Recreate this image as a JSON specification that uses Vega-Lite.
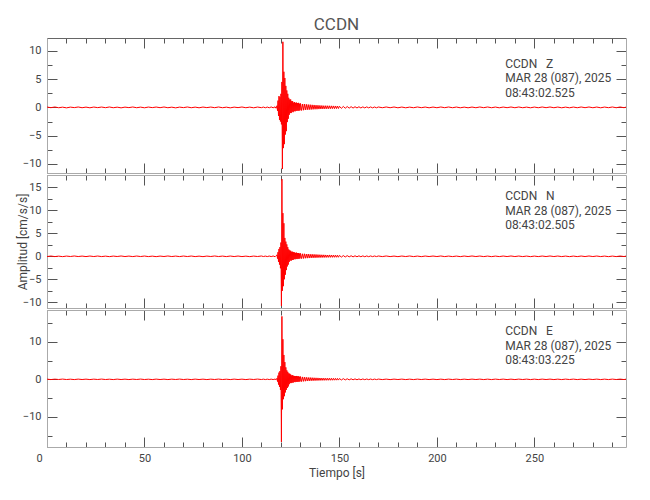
{
"$schema": "https://vega.github.io/schema/vega-lite/v6.json",
"autosize": "pad",
"padding": {"left": 16, "top": 15, "right": 5, "bottom": 5},
"background": "white",
"title": {"text": "CCDN", "fontSize": 17, "font": "Roboto", "fontWeight": "normal", "color": "#555", "offset": 4, "anchor": "middle", "frame": "group"},
"config": {
  "view": {"stroke": null},
  "font": "Roboto",
  "axis": {"grid": false, "labelFont": "Roboto", "labelFontSize": 11, "labelColor": "#444", "titleFont": "Roboto", "titleFontSize": 12, "titleFontWeight": "normal", "titleColor": "#444", "domainColor": "#aaa", "tickColor": "#555", "tickWidth": 1}
},
"spacing": 0,
"data": {"values": [
{"t":0,"z":0.06,"n":-0.05,"e":0.05},{"t":2,"z":-0.05,"n":0.06,"e":-0.06},{"t":4,"z":0.07,"n":-0.06,"e":0.05},{"t":6,"z":-0.06,"n":0.04,"e":-0.04},{"t":8,"z":0.04,"n":-0.07,"e":0.07},{"t":10,"z":-0.08,"n":0.05,"e":-0.05},{"t":12,"z":0.05,"n":-0.04,"e":0.04},{"t":14,"z":-0.04,"n":0.07,"e":-0.06},{"t":16,"z":0.07,"n":-0.05,"e":0.06},{"t":18,"z":-0.06,"n":0.05,"e":-0.05},
{"t":20,"z":0.05,"n":-0.06,"e":0.05},{"t":22,"z":-0.07,"n":0.06,"e":-0.06},{"t":24,"z":0.06,"n":-0.05,"e":0.05},{"t":26,"z":-0.04,"n":0.06,"e":-0.04},{"t":28,"z":0.06,"n":-0.06,"e":0.07},{"t":30,"z":-0.05,"n":0.04,"e":-0.05},{"t":32,"z":0.07,"n":-0.07,"e":0.04},{"t":34,"z":-0.06,"n":0.05,"e":-0.06},{"t":36,"z":0.04,"n":-0.04,"e":0.06},{"t":38,"z":-0.08,"n":0.07,"e":-0.05},
{"t":40,"z":0.05,"n":-0.05,"e":0.05},{"t":42,"z":-0.04,"n":0.05,"e":-0.06},{"t":44,"z":0.07,"n":-0.06,"e":0.05},{"t":46,"z":-0.06,"n":0.06,"e":-0.04},{"t":48,"z":0.05,"n":-0.05,"e":0.07},{"t":50,"z":-0.07,"n":0.06,"e":-0.05},{"t":52,"z":0.06,"n":-0.06,"e":0.04},{"t":54,"z":-0.04,"n":0.04,"e":-0.06},{"t":56,"z":0.06,"n":-0.07,"e":0.06},{"t":58,"z":-0.05,"n":0.05,"e":-0.05},
{"t":60,"z":0.07,"n":-0.04,"e":0.05},{"t":62,"z":-0.06,"n":0.07,"e":-0.06},{"t":64,"z":0.04,"n":-0.05,"e":0.05},{"t":66,"z":-0.08,"n":0.05,"e":-0.04},{"t":68,"z":0.05,"n":-0.06,"e":0.07},{"t":70,"z":-0.04,"n":0.06,"e":-0.05},{"t":72,"z":0.07,"n":-0.05,"e":0.04},{"t":74,"z":-0.06,"n":0.06,"e":-0.06},{"t":76,"z":0.05,"n":-0.06,"e":0.06},{"t":78,"z":-0.07,"n":0.04,"e":-0.05},
{"t":80,"z":0.06,"n":-0.07,"e":0.05},{"t":82,"z":-0.04,"n":0.05,"e":-0.06},{"t":84,"z":0.06,"n":-0.04,"e":0.05},{"t":86,"z":-0.05,"n":0.07,"e":-0.04},{"t":88,"z":0.07,"n":-0.05,"e":0.07},{"t":90,"z":-0.06,"n":0.05,"e":-0.05},{"t":92,"z":0.04,"n":-0.06,"e":0.04},{"t":94,"z":-0.08,"n":0.06,"e":-0.06},{"t":96,"z":0.05,"n":-0.05,"e":0.06},{"t":98,"z":-0.04,"n":0.06,"e":-0.05},
{"t":100,"z":0.07,"n":-0.06,"e":0.05},{"t":102,"z":-0.06,"n":0.04,"e":-0.06},{"t":104,"z":0.05,"n":-0.07,"e":0.05},{"t":106,"z":-0.07,"n":0.05,"e":-0.04},{"t":108,"z":0.06,"n":-0.04,"e":0.07},{"t":110,"z":-0.05,"n":0.07,"e":-0.05},
{"t":111,"z":0.06,"n":-0.05,"e":0.05},{"t":112,"z":-0.07,"n":0.05,"e":-0.06},{"t":113,"z":0.06,"n":-0.06,"e":0.05},{"t":114,"z":-0.07,"n":0.06,"e":-0.06},{"t":115,"z":0.08,"n":-0.06,"e":0.06},{"t":116,"z":-0.07,"n":0.07,"e":-0.06},{"t":117,"z":0.1,"n":-0.09,"e":0.08},{"t":117.5,"z":-0.15,"n":0.14,"e":-0.12},
{"t":118,"z":0.3,"n":0.3,"e":0.3},{"t":118.25,"z":-0.6,"n":-0.5,"e":-0.6},{"t":118.5,"z":1.2,"n":0.9,"e":1.0},{"t":118.75,"z":-1.5,"n":-1.2,"e":-1.4},{"t":119,"z":2.0,"n":1.6,"e":1.8},{"t":119.25,"z":-2.2,"n":-1.8,"e":-2.0},{"t":119.5,"z":1.8,"n":2.0,"e":2.2},{"t":119.75,"z":-2.5,"n":-2.6,"e":-2.8},
{"t":120,"z":2.4,"n":3.0,"e":3.5},{"t":120.25,"z":-3.0,"n":-10.8,"e":-16.7},{"t":120.5,"z":4.5,"n":16.8,"e":16.8},{"t":120.75,"z":-10.9,"n":-7.5,"e":-8.0},{"t":121,"z":11.6,"n":9.4,"e":10.7},{"t":121.25,"z":-7.2,"n":-6.5,"e":-5.3},{"t":121.5,"z":6.3,"n":7.2,"e":6.5},{"t":121.75,"z":-6.5,"n":-5.0,"e":-4.5},
{"t":122,"z":5.2,"n":4.0,"e":4.6},{"t":122.25,"z":-4.8,"n":-4.0,"e":-3.5},{"t":122.5,"z":3.8,"n":3.2,"e":3.2},{"t":122.75,"z":-4.2,"n":-3.0,"e":-2.8},{"t":123,"z":3.0,"n":2.6,"e":2.4},{"t":123.25,"z":-2.6,"n":-2.2,"e":-2.3},{"t":123.5,"z":2.4,"n":2.0,"e":2.0},{"t":123.75,"z":-2.0,"n":-1.8,"e":-1.9},
{"t":124,"z":1.7,"n":1.5,"e":1.6},{"t":124.25,"z":-1.3,"n":-1.2,"e":-1.3},{"t":124.5,"z":1.4,"n":1.3,"e":1.5},{"t":124.75,"z":-1.0,"n":-0.9,"e":-1.0},{"t":125,"z":1.4,"n":1.2,"e":1.3},{"t":125.25,"z":-1.0,"n":-0.95,"e":-1.0},{"t":125.5,"z":1.1,"n":1.0,"e":1.05},{"t":125.75,"z":-0.75,"n":-0.8,"e":-0.85},
{"t":126,"z":1.1,"n":1.0,"e":1.1},{"t":126.25,"z":-0.85,"n":-0.8,"e":-0.9},{"t":126.5,"z":0.85,"n":0.9,"e":0.95},{"t":126.75,"z":-0.65,"n":-0.6,"e":-0.7},{"t":127,"z":0.95,"n":0.85,"e":0.9},{"t":127.25,"z":-0.7,"n":-0.65,"e":-0.75},{"t":127.5,"z":0.8,"n":0.75,"e":0.85},{"t":127.75,"z":-0.6,"n":-0.55,"e":-0.65},
{"t":128,"z":0.85,"n":0.8,"e":0.9},{"t":128.25,"z":-0.6,"n":-0.6,"e":-0.7},{"t":128.5,"z":0.75,"n":0.7,"e":0.8},{"t":128.75,"z":-0.55,"n":-0.5,"e":-0.6},{"t":129,"z":0.8,"n":0.7,"e":0.8},{"t":129.25,"z":-0.6,"n":-0.55,"e":-0.65},{"t":129.5,"z":0.65,"n":0.6,"e":0.7},{"t":129.75,"z":-0.5,"n":-0.45,"e":-0.55},
{"t":130,"z":0.7,"n":0.65,"e":0.75},{"t":130.5,"z":-0.55,"n":-0.5,"e":-0.6},{"t":131,"z":0.6,"n":0.55,"e":0.65},{"t":131.5,"z":-0.5,"n":-0.48,"e":-0.55},{"t":132,"z":0.6,"n":0.55,"e":0.6},{"t":132.5,"z":-0.45,"n":-0.42,"e":-0.5},{"t":133,"z":0.55,"n":0.5,"e":0.55},{"t":133.5,"z":-0.42,"n":-0.4,"e":-0.45},
{"t":134,"z":0.5,"n":0.5,"e":0.5},{"t":134.5,"z":-0.4,"n":-0.38,"e":-0.42},{"t":135,"z":0.48,"n":0.45,"e":0.48},{"t":135.5,"z":-0.38,"n":-0.35,"e":-0.38},{"t":136,"z":0.45,"n":0.45,"e":0.45},{"t":136.5,"z":-0.35,"n":-0.33,"e":-0.36},{"t":137,"z":0.43,"n":0.42,"e":0.42},{"t":137.5,"z":-0.33,"n":-0.32,"e":-0.34},
{"t":138,"z":0.4,"n":0.4,"e":0.4},{"t":138.5,"z":-0.32,"n":-0.3,"e":-0.32},{"t":139,"z":0.38,"n":0.37,"e":0.38},{"t":139.5,"z":-0.3,"n":-0.28,"e":-0.3},{"t":140,"z":0.35,"n":0.35,"e":0.35},{"t":140.5,"z":-0.28,"n":-0.27,"e":-0.28},{"t":141,"z":0.33,"n":0.33,"e":0.33},{"t":141.5,"z":-0.27,"n":-0.26,"e":-0.27},
{"t":142,"z":0.3,"n":0.32,"e":0.32},{"t":142.5,"z":-0.26,"n":-0.25,"e":-0.26},{"t":143,"z":0.3,"n":0.3,"e":0.3},{"t":143.5,"z":-0.25,"n":-0.24,"e":-0.25},{"t":144,"z":0.29,"n":0.28,"e":0.3},{"t":144.5,"z":-0.24,"n":-0.23,"e":-0.24},{"t":145,"z":0.28,"n":0.3,"e":0.3},{"t":145.5,"z":-0.23,"n":-0.22,"e":-0.24},
{"t":146,"z":0.27,"n":0.27,"e":0.28},{"t":146.5,"z":-0.22,"n":-0.22,"e":-0.23},{"t":147,"z":0.26,"n":0.26,"e":0.27},{"t":147.5,"z":-0.22,"n":-0.21,"e":-0.22},{"t":148,"z":0.25,"n":0.25,"e":0.26},{"t":148.5,"z":-0.21,"n":-0.2,"e":-0.21},{"t":149,"z":0.24,"n":0.24,"e":0.25},{"t":149.5,"z":-0.2,"n":-0.2,"e":-0.2},
{"t":150,"z":0.2,"n":0.2,"e":0.22},{"t":151,"z":-0.17,"n":-0.16,"e":-0.17},{"t":152,"z":0.17,"n":0.16,"e":0.18},{"t":153,"z":-0.15,"n":-0.14,"e":-0.15},{"t":154,"z":0.15,"n":0.15,"e":0.15},{"t":155,"z":-0.13,"n":-0.12,"e":-0.14},{"t":156,"z":0.13,"n":0.12,"e":0.14},{"t":157,"z":-0.12,"n":-0.12,"e":-0.12},
{"t":158,"z":0.12,"n":0.11,"e":0.12},{"t":159,"z":-0.1,"n":-0.1,"e":-0.11},{"t":160,"z":0.11,"n":0.1,"e":0.1},{"t":161,"z":-0.1,"n":-0.09,"e":-0.1},{"t":162,"z":0.09,"n":0.09,"e":0.1},{"t":163,"z":-0.09,"n":-0.09,"e":-0.09},{"t":164,"z":0.09,"n":0.08,"e":0.09},{"t":165,"z":-0.08,"n":-0.08,"e":-0.08},
{"t":166,"z":0.08,"n":0.08,"e":0.08},{"t":167,"z":-0.08,"n":-0.07,"e":-0.08},{"t":168,"z":0.07,"n":0.07,"e":0.07},{"t":169,"z":-0.07,"n":-0.06,"e":-0.07},{"t":170,"z":0.07,"n":0.07,"e":0.07},
{"t":172,"z":-0.06,"n":-0.06,"e":-0.06},{"t":174,"z":0.07,"n":0.07,"e":0.06},{"t":176,"z":-0.06,"n":-0.06,"e":-0.07},{"t":178,"z":0.07,"n":0.05,"e":0.06},{"t":180,"z":-0.07,"n":-0.07,"e":-0.05},{"t":182,"z":0.06,"n":0.06,"e":0.06},{"t":184,"z":-0.07,"n":-0.05,"e":-0.06},{"t":186,"z":0.05,"n":0.07,"e":0.05},{"t":188,"z":-0.06,"n":-0.06,"e":-0.06},{"t":190,"z":0.07,"n":0.05,"e":0.06},
{"t":192,"z":-0.05,"n":-0.07,"e":-0.05},{"t":194,"z":0.06,"n":0.06,"e":0.06},{"t":196,"z":-0.07,"n":-0.05,"e":-0.06},{"t":198,"z":0.06,"n":0.06,"e":0.05},{"t":200,"z":-0.06,"n":-0.05,"e":-0.06},{"t":202,"z":0.07,"n":0.07,"e":0.05},{"t":204,"z":-0.05,"n":-0.06,"e":-0.06},{"t":206,"z":0.07,"n":0.05,"e":0.06},{"t":208,"z":-0.06,"n":-0.06,"e":-0.05},{"t":210,"z":0.06,"n":0.05,"e":0.06},
{"t":212,"z":-0.07,"n":-0.07,"e":-0.06},{"t":214,"z":0.05,"n":0.06,"e":0.05},{"t":216,"z":-0.07,"n":-0.05,"e":-0.06},{"t":218,"z":0.06,"n":0.07,"e":0.06},{"t":220,"z":-0.06,"n":-0.05,"e":-0.05},{"t":222,"z":0.07,"n":0.06,"e":0.06},{"t":224,"z":-0.05,"n":-0.06,"e":-0.06},{"t":226,"z":0.07,"n":0.05,"e":0.05},{"t":228,"z":-0.06,"n":-0.07,"e":-0.06},{"t":230,"z":0.06,"n":0.05,"e":0.06},
{"t":232,"z":-0.07,"n":-0.06,"e":-0.05},{"t":234,"z":0.06,"n":0.06,"e":0.06},{"t":236,"z":-0.05,"n":-0.05,"e":-0.06},{"t":238,"z":0.07,"n":0.07,"e":0.05},{"t":240,"z":-0.06,"n":-0.05,"e":-0.06},{"t":242,"z":0.07,"n":0.06,"e":0.06},{"t":244,"z":-0.06,"n":-0.06,"e":-0.05},{"t":246,"z":0.05,"n":0.05,"e":0.06},{"t":248,"z":-0.07,"n":-0.07,"e":-0.06},{"t":250,"z":0.06,"n":0.05,"e":0.05},
{"t":252,"z":-0.06,"n":-0.06,"e":-0.06},{"t":254,"z":0.07,"n":0.06,"e":0.06},{"t":256,"z":-0.05,"n":-0.05,"e":-0.05},{"t":258,"z":0.07,"n":0.07,"e":0.06},{"t":260,"z":-0.06,"n":-0.05,"e":-0.06},{"t":262,"z":0.06,"n":0.06,"e":0.05},{"t":264,"z":-0.07,"n":-0.06,"e":-0.06},{"t":266,"z":0.05,"n":0.05,"e":0.06},{"t":268,"z":-0.07,"n":-0.07,"e":-0.05},{"t":270,"z":0.06,"n":0.05,"e":0.06},
{"t":272,"z":-0.06,"n":-0.06,"e":-0.06},{"t":274,"z":0.07,"n":0.06,"e":0.05},{"t":276,"z":-0.05,"n":-0.05,"e":-0.06},{"t":278,"z":0.07,"n":0.07,"e":0.06},{"t":280,"z":-0.06,"n":-0.05,"e":-0.05},{"t":282,"z":0.06,"n":0.06,"e":0.06},{"t":284,"z":-0.07,"n":-0.06,"e":-0.06},{"t":286,"z":0.06,"n":0.05,"e":0.05},{"t":288,"z":-0.05,"n":-0.07,"e":-0.06},{"t":290,"z":0.07,"n":0.05,"e":0.06},
{"t":292,"z":-0.06,"n":-0.06,"e":-0.05},{"t":294,"z":0.07,"n":0.06,"e":0.06},{"t":296,"z":-0.06,"n":-0.05,"e":-0.06},{"t":297,"z":0.05,"n":0.05,"e":0.05}
]},
"vconcat": [
{
 "width": 579, "height": 135,
 "layer": [
  {"mark": {"type": "line", "color": "#ff0000", "strokeWidth": 1},
   "encoding": {
    "x": {"field": "t", "type": "quantitative", "scale": {"domain": [0, 297], "nice": false, "zero": false},
          "axis": {"orient": "bottom", "values": [0,10,20,30,40,50,60,70,80,90,100,110,120,130,140,150,160,170,180,190,200,210,220,230,240,250,260,270,280,290], "labels": false, "title": null, "tickSize": {"condition": {"test": "datum.value % 50 === 0", "value": -10}, "value": -5}}},
    "y": {"field": "z", "type": "quantitative", "scale": {"domain": [-11.6, 12.27], "nice": false, "zero": false},
          "axis": {"orient": "left", "values": [-10,-7.5,-5,-2.5,0,2.5,5,7.5,10], "title": null, "labelExpr": "datum.value % 5 === 0 ? datum.label : ''", "labelPadding": 16, "tickSize": {"condition": {"test": "datum.value % 5 === 0", "value": -10}, "value": -5}}}
   }},
  {"data": {"values": [{}]},
   "mark": {"type": "text", "align": "left", "baseline": "top", "text": ["CCDN\u00a0\u00a0\u00a0Z", "MAR 28 (087), 2025", "08:43:02.525"], "lineHeight": 14.5, "fontSize": 12, "color": "#444"},
   "encoding": {
    "x": {"datum": 235, "type": "quantitative", "axis": {"orient": "top", "values": [0,10,20,30,40,50,60,70,80,90,100,110,120,130,140,150,160,170,180,190,200,210,220,230,240,250,260,270,280,290], "labels": false, "title": null, "domainColor": "#666", "tickSize": {"condition": {"test": "datum.value % 50 === 0", "value": -10}, "value": -5}}},
    "y": {"datum": 8.6, "type": "quantitative", "axis": {"orient": "right", "values": [-10,-7.5,-5,-2.5,0,2.5,5,7.5,10], "labels": false, "title": null, "tickSize": {"condition": {"test": "datum.value % 5 === 0", "value": -10}, "value": -5}}}
   }}
 ],
 "resolve": {"axis": {"x": "independent", "y": "independent"}}
},
{
 "width": 579, "height": 133,
 "layer": [
  {"mark": {"type": "line", "color": "#ff0000", "strokeWidth": 1},
   "encoding": {
    "x": {"field": "t", "type": "quantitative", "scale": {"domain": [0, 297], "nice": false, "zero": false},
          "axis": {"orient": "bottom", "values": [0,10,20,30,40,50,60,70,80,90,100,110,120,130,140,150,160,170,180,190,200,210,220,230,240,250,260,270,280,290], "labels": false, "title": null, "tickSize": {"condition": {"test": "datum.value % 50 === 0", "value": -10}, "value": -5}}},
    "y": {"field": "n", "type": "quantitative", "scale": {"domain": [-11.25, 17.7], "nice": false, "zero": false},
          "axis": {"orient": "left", "values": [-10,-7.5,-5,-2.5,0,2.5,5,7.5,10,12.5,15], "title": "Amplitud [cm/s/s]", "titlePadding": -7, "labelExpr": "datum.value % 5 === 0 ? datum.label : ''", "labelPadding": 16, "tickSize": {"condition": {"test": "datum.value % 5 === 0", "value": -10}, "value": -5}}}
   }},
  {"data": {"values": [{}]},
   "mark": {"type": "text", "align": "left", "baseline": "top", "text": ["CCDN\u00a0\u00a0\u00a0N", "MAR 28 (087), 2025", "08:43:02.505"], "lineHeight": 14.5, "fontSize": 12, "color": "#444"},
   "encoding": {
    "x": {"datum": 235, "type": "quantitative", "axis": {"orient": "top", "values": [0,10,20,30,40,50,60,70,80,90,100,110,120,130,140,150,160,170,180,190,200,210,220,230,240,250,260,270,280,290], "labels": false, "title": null, "tickSize": {"condition": {"test": "datum.value % 50 === 0", "value": -10}, "value": -5}}},
    "y": {"datum": 14.2, "type": "quantitative", "axis": {"orient": "right", "values": [-10,-7.5,-5,-2.5,0,2.5,5,7.5,10,12.5,15], "labels": false, "title": null, "tickSize": {"condition": {"test": "datum.value % 5 === 0", "value": -10}, "value": -5}}}
   }}
 ],
 "resolve": {"axis": {"x": "independent", "y": "independent"}}
},
{
 "width": 579, "height": 137,
 "layer": [
  {"mark": {"type": "line", "color": "#ff0000", "strokeWidth": 1},
   "encoding": {
    "x": {"field": "t", "type": "quantitative", "scale": {"domain": [0, 297], "nice": false, "zero": false},
          "axis": {"orient": "bottom", "values": [0,10,20,30,40,50,60,70,80,90,100,110,120,130,140,150,160,170,180,190,200,210,220,230,240,250,260,270,280,290], "title": "Tiempo [s]", "titlePadding": 4, "labelExpr": "datum.value % 50 === 0 ? datum.label : ''", "labelPadding": 15, "labelOffset": {"condition": {"test": "datum.value === 0", "value": -8}, "value": 0}, "labelFlush": false, "tickSize": {"condition": {"test": "datum.value % 50 === 0", "value": -10}, "value": -5}}},
    "y": {"field": "e", "type": "quantitative", "scale": {"domain": [-18.05, 18.5], "nice": false, "zero": false},
          "axis": {"orient": "left", "values": [-15,-10,-5,0,5,10,15], "title": null, "labelExpr": "datum.value % 10 === 0 ? datum.label : ''", "labelPadding": 16, "tickSize": {"condition": {"test": "datum.value % 10 === 0", "value": -10}, "value": -5}}}
   }},
  {"data": {"values": [{}]},
   "mark": {"type": "text", "align": "left", "baseline": "top", "text": ["CCDN\u00a0\u00a0\u00a0E", "MAR 28 (087), 2025", "08:43:03.225"], "lineHeight": 14.5, "fontSize": 12, "color": "#444"},
   "encoding": {
    "x": {"datum": 235, "type": "quantitative", "axis": {"orient": "top", "values": [0,10,20,30,40,50,60,70,80,90,100,110,120,130,140,150,160,170,180,190,200,210,220,230,240,250,260,270,280,290], "labels": false, "title": null, "tickSize": {"condition": {"test": "datum.value % 50 === 0", "value": -10}, "value": -5}}},
    "y": {"datum": 14.2, "type": "quantitative", "axis": {"orient": "right", "values": [-15,-10,-5,0,5,10,15], "labels": false, "title": null, "tickSize": {"condition": {"test": "datum.value % 10 === 0", "value": -10}, "value": -5}}}
   }}
 ],
 "resolve": {"axis": {"x": "independent", "y": "independent"}}
}
]
}
